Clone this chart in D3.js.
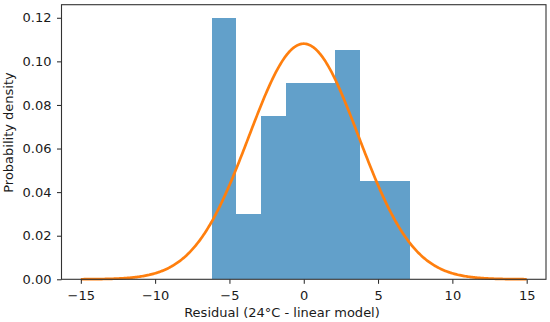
<!DOCTYPE html>
<html>
<head>
<meta charset="utf-8">
<script src="https://cdn.jsdelivr.net/npm/d3@7"></script>
<style>
  body { margin: 0; background: #fff; }
  svg { font-family: "DejaVu Sans", sans-serif; }
</style>
</head>
<body>
<svg id="chart" width="550" height="322"></svg>
<script>
// histogram bins (edges) and density per bin
var binEdges = [-6.2, -4.535, -2.87, -1.205, 0.46, 2.125, 3.79, 5.455, 7.12]
var densities = [0.12, 0.03, 0.075, 0.09, 0.09, 0.105, 0.045, 0.045]

// fitted normal curve
var curveMean = 0
var curveSd = 3.69
var curveRange = [-15, 15]

var xTicks = [-15, -10, -5, 0, 5, 10, 15]
var yTicks = [0, 0.02, 0.04, 0.06, 0.08, 0.10, 0.12]

var paddings = { l: 61.5, r: 4, t: 4.7, b: 42.7, width: 550, height: 322 }
var innerW = paddings.width - paddings.l - paddings.r
var innerH = paddings.height - paddings.t - paddings.b

var svg = d3.select('#chart')
var g = svg.append('g').attr('transform', 'translate(' + paddings.l + ',' + paddings.t + ')')

var x = d3.scaleLinear().domain([-16.3, 16.3]).range([0, innerW])
var y = d3.scaleLinear().domain([0, 0.126]).range([innerH, 0])

var bins = densities.map(function (d, i) { return { x0: binEdges[i], x1: binEdges[i + 1], v: d } })

g.selectAll('rect.bar')
  .data(bins)
  .join('rect')
  .attr('class', 'bar')
  .attr('x', d => x(d.x0))
  .attr('y', d => y(d.v))
  .attr('width', d => x(d.x1) - x(d.x0))
  .attr('height', d => y(0) - y(d.v))
  .attr('fill', '#1f77b4')
  .attr('fill-opacity', 0.7)
  .attr('shape-rendering', 'crispEdges')

// normal pdf
var pts = d3.range(0, 401).map(function (i) {
  var xv = curveRange[0] + (curveRange[1] - curveRange[0]) * i / 400
  var z = (xv - curveMean) / curveSd
  return [xv, Math.exp(-0.5 * z * z) / (curveSd * Math.sqrt(2 * Math.PI))]
})

g.append('path')
  .datum(pts)
  .attr('fill', 'none')
  .attr('stroke', '#ff7f0e')
  .attr('stroke-width', 2.7)
  .attr('d', d3.line().x(d => x(d[0])).y(d => y(d[1])))

var fmtX = function (d) { return d < 0 ? '\u2212' + Math.abs(d) : '' + d }

var xa = g.append('g')
  .attr('transform', 'translate(0,' + innerH + ')')
  .call(d3.axisBottom(x).tickValues(xTicks).tickFormat(fmtX).tickSize(4.5).tickSizeOuter(0).tickPadding(6.5))
var ya = g.append('g')
  .call(d3.axisLeft(y).tickValues(yTicks).tickFormat(d3.format('.2f')).tickSize(4.5).tickSizeOuter(0).tickPadding(5.5))

;[xa, ya].forEach(function (a) {
  a.selectAll('text').attr('font-size', 13).attr('fill', '#1a1a1a').attr('font-family', '"DejaVu Sans", sans-serif')
  a.selectAll('line').attr('stroke', '#222').attr('stroke-width', 1)
  a.select('.domain').remove()
})

// frame
g.append('rect')
  .attr('x', 0).attr('y', 0)
  .attr('width', innerW).attr('height', innerH)
  .attr('fill', 'none').attr('stroke', '#333').attr('stroke-width', 1.1)

svg.append('text')
  .attr('x', 282)
  .attr('y', 317)
  .attr('text-anchor', 'middle')
  .attr('font-size', 13)
  .attr('fill', '#1a1a1a')
  .text('Residual (24\u00b0C - linear model)')

svg.append('text')
  .attr('transform', 'translate(12.5,132.5) rotate(-90)')
  .attr('text-anchor', 'middle')
  .attr('font-size', 13)
  .attr('fill', '#1a1a1a')
  .text('Probability density')
</script>
</body>
</html>
